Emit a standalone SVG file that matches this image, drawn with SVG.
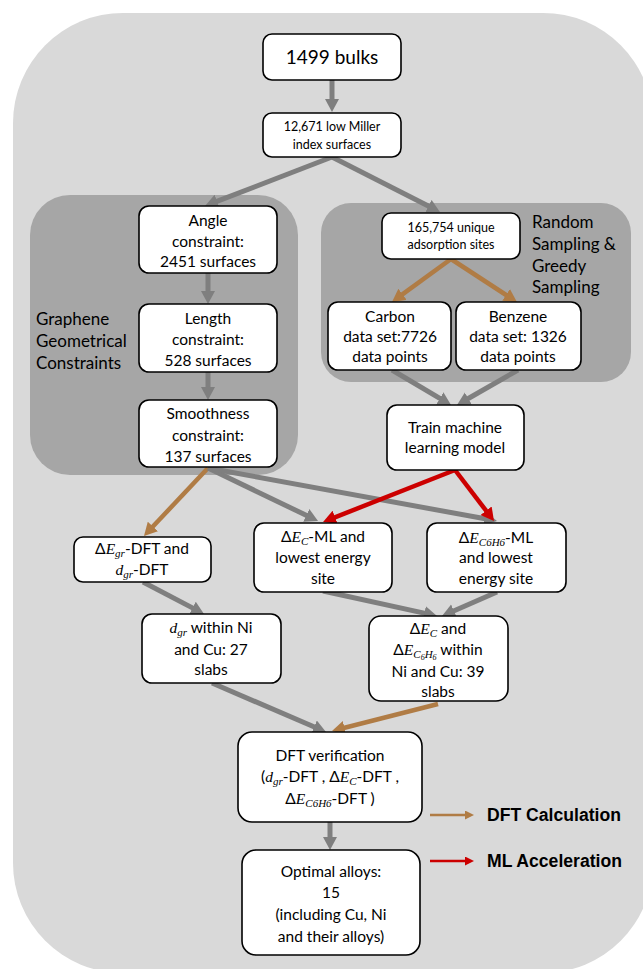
<svg xmlns="http://www.w3.org/2000/svg" width="643" height="969" viewBox="0 0 643 969">
<style>
.box{fill:#fff;stroke:#000;stroke-width:1.6}
.t{font-family:Lato,"Open Sans","Liberation Sans",sans-serif;font-size:15.5px;fill:#000;text-anchor:middle}
.s{font-size:12.5px}
.lbl{font-family:Lato,"Open Sans","Liberation Sans",sans-serif;font-size:17px;fill:#000}
.m{font-family:"Liberation Serif","DejaVu Serif",serif;font-style:italic}
.g{fill:none;stroke:#7f7f7f;stroke-width:5}
.o{fill:none;stroke:#b07c45;stroke-width:4.5}
.r{fill:none;stroke:#cc0000;stroke-width:4.5}
.leg{font-family:"Liberation Sans",Arial,sans-serif;font-weight:bold;font-size:17.6px;fill:#000}
</style>
<defs>
<marker id="ag" markerUnits="userSpaceOnUse" markerWidth="16" markerHeight="16" refX="1" refY="7" orient="auto"><path d="M0,0 L13,7 L0,14 z" fill="#7f7f7f"/></marker>
<marker id="ao" markerUnits="userSpaceOnUse" markerWidth="16" markerHeight="16" refX="1" refY="7" orient="auto"><path d="M0,0 L13,7 L0,14 z" fill="#b07c45"/></marker>
<marker id="ar" markerUnits="userSpaceOnUse" markerWidth="16" markerHeight="16" refX="1" refY="7" orient="auto"><path d="M0,0 L13,7 L0,14 z" fill="#cc0000"/></marker>
<marker id="lo" markerUnits="userSpaceOnUse" markerWidth="12" markerHeight="12" refX="1" refY="4.5" orient="auto"><path d="M0,0 L9,4.5 L0,9 z" fill="#b07c45"/></marker>
<marker id="lr" markerUnits="userSpaceOnUse" markerWidth="12" markerHeight="12" refX="1" refY="4.5" orient="auto"><path d="M0,0 L9,4.5 L0,9 z" fill="#cc0000"/></marker>
</defs>

<rect x="13" y="13" width="640" height="960" rx="110" fill="#d9d9d9"/>
<rect id="panel-graphene" x="30" y="195" width="268" height="280" rx="40" fill="#a6a6a6"/>
<rect id="panel-sampling" x="321" y="203" width="310" height="179" rx="30" fill="#a6a6a6"/>

<g id="connectors">
<path class="g" d="M332,80 L332,100" marker-end="url(#ag)"/>
<path class="g" d="M332,157 L216.2,201.7" marker-end="url(#ag)"/>
<path class="g" d="M332,157 L429.3,206.6" marker-end="url(#ag)"/>
<path class="g" d="M208,273 L208,292" marker-end="url(#ag)"/>
<path class="g" d="M208,372 L208,388" marker-end="url(#ag)"/>
<path class="o" d="M451,259 L401.7,294.9" marker-end="url(#ao)"/>
<path class="o" d="M451,259 L506.9,295.5" marker-end="url(#ao)"/>
<path class="g" d="M392,370 L440.7,398.9" marker-end="url(#ag)"/>
<path class="g" d="M518,370 L467.4,399" marker-end="url(#ag)"/>
<path class="o" d="M208,468 L152.2,527.3" marker-end="url(#ao)"/>
<path class="g" d="M208,468 L307.2,515.8" marker-end="url(#ag)"/>
<path class="g" d="M208,468 L485.2,518.8" marker-end="url(#ag)"/>
<path class="r" d="M455,470 L334.2,517.6" marker-end="url(#ar)"/>
<path class="r" d="M455,470 L486.7,511.5" marker-end="url(#ar)"/>
<path class="g" d="M143,582 L193.4,608.4" marker-end="url(#ag)"/>
<path class="g" d="M323,591 L425.3,613.4" marker-end="url(#ag)"/>
<path class="g" d="M497,592 L453,611.2" marker-end="url(#ag)"/>
<path class="g" d="M212,683 L315,727.3" marker-end="url(#ag)"/>
<path class="o" d="M438,704 L343.6,728" marker-end="url(#ao)"/>
<path class="g" d="M330,822 L330,838" marker-end="url(#ag)"/>
<path fill="none" stroke="#b07c45" stroke-width="2.5" d="M430,815 L466,815" marker-end="url(#lo)"/>
<path fill="none" stroke="#cc0000" stroke-width="2.5" d="M430,861 L466,861" marker-end="url(#lr)"/>
</g>

<g id="label-graphene"><text class="lbl" x="36" y="325">Graphene</text><text class="lbl" x="36" y="347">Geometrical</text><text class="lbl" x="36" y="369">Constraints</text></g>
<g id="label-sampling"><text class="lbl" x="532" y="228">Random</text><text class="lbl" x="532" y="250">Sampling &amp;</text><text class="lbl" x="532" y="272">Greedy</text><text class="lbl" x="532" y="293">Sampling</text></g>

<g id="n-bulks"><rect class="box" x="263" y="34" width="138" height="46" rx="9"/><text class="t" x="332" y="64" style="font-size:19px">1499 bulks</text></g>
<g id="n-miller"><rect class="box" x="263" y="113" width="138" height="44" rx="9"/><text class="t s" x="332" y="131">12,671 low Miller</text><text class="t s" x="332" y="149">index surfaces</text></g>

<g id="n-angle"><rect class="box" x="139" y="206" width="138" height="67" rx="10"/><text class="t" x="208" y="226">Angle</text><text class="t" x="208" y="247">constraint:</text><text class="t" x="208" y="267">2451 surfaces</text></g>
<g id="n-length"><rect class="box" x="139" y="304" width="138" height="68" rx="10"/><text class="t" x="208" y="324">Length</text><text class="t" x="208" y="345">constraint:</text><text class="t" x="208" y="366">528 surfaces</text></g>
<g id="n-smooth"><rect class="box" x="139" y="400" width="138" height="67" rx="10"/><text class="t" x="208" y="419">Smoothness</text><text class="t" x="208" y="441">constraint:</text><text class="t" x="208" y="462">137 surfaces</text></g>

<g id="n-sites"><rect class="box" x="382" y="213" width="138" height="46" rx="9"/><text class="t s" x="451" y="232">165,754 unique</text><text class="t s" x="451" y="249">adsorption sites</text></g>
<g id="n-carbon"><rect class="box" x="328" y="302" width="123" height="68" rx="10"/><text class="t" x="390" y="322">Carbon</text><text class="t" x="390" y="342">data set:7726</text><text class="t" x="390" y="362">data points</text></g>
<g id="n-benzene"><rect class="box" x="456" y="302" width="125" height="68" rx="10"/><text class="t" x="518" y="322">Benzene</text><text class="t" x="518" y="342">data set: 1326</text><text class="t" x="518" y="362">data points</text></g>
<g id="n-train"><rect class="box" x="387" y="405" width="137" height="65" rx="10"/><text class="t" x="455" y="433">Train machine</text><text class="t" x="455" y="453">learning model</text></g>

<g id="n-egr"><rect class="box" x="74" y="537" width="137" height="45" rx="9"/><text class="t" x="142" y="554">Δ<tspan class="m">E</tspan><tspan class="m" dy="3" font-size="11">gr</tspan><tspan dy="-3">-DFT and</tspan></text><text class="t" x="142" y="575"><tspan class="m">d</tspan><tspan class="m" dy="3" font-size="11">gr</tspan><tspan dy="-3">-DFT</tspan></text></g>
<g id="n-ecml"><rect class="box" x="254" y="523" width="138" height="69" rx="10"/><text class="t" x="323" y="542">Δ<tspan class="m">E</tspan><tspan class="m" dy="3" font-size="11">C</tspan><tspan dy="-3">-ML and</tspan></text><text class="t" x="323" y="563">lowest energy</text><text class="t" x="323" y="584">site</text></g>
<g id="n-ebzml"><rect class="box" x="427" y="523" width="139" height="69" rx="10"/><text class="t" x="496" y="543">Δ<tspan class="m">E</tspan><tspan class="m" dy="3" font-size="11">C6H6</tspan><tspan dy="-3">-ML</tspan></text><text class="t" x="496" y="563">and lowest</text><text class="t" x="496" y="584">energy site</text></g>

<g id="n-dgr"><rect class="box" x="142" y="614" width="139" height="69" rx="10"/><text class="t" x="211" y="633"><tspan class="m">d</tspan><tspan class="m" dy="3" font-size="11">gr</tspan><tspan dy="-3"> within Ni</tspan></text><text class="t" x="211" y="655">and Cu: 27</text><text class="t" x="211" y="675">slabs</text></g>
<g id="n-ec39"><rect class="box" x="369" y="616" width="139" height="85" rx="12"/><text class="t" x="438" y="634">Δ<tspan class="m">E</tspan><tspan class="m" dy="3" font-size="11">C</tspan><tspan dy="-3"> and</tspan></text><text class="t" x="438" y="655">Δ<tspan class="m">E</tspan><tspan class="m" dy="3" font-size="11">C</tspan><tspan class="m" dy="2" font-size="8">6</tspan><tspan class="m" dy="-2" font-size="11">H</tspan><tspan class="m" dy="2" font-size="8">6</tspan><tspan dy="-5"> within</tspan></text><text class="t" x="438" y="677">Ni and Cu: 39</text><text class="t" x="438" y="697">slabs</text></g>

<g id="n-verify"><rect class="box" x="238" y="732" width="184" height="90" rx="14"/><text class="t" x="330" y="761">DFT verification</text><text class="t" x="330" y="782">(<tspan class="m">d</tspan><tspan class="m" dy="3" font-size="11">gr</tspan><tspan dy="-3">-DFT , Δ</tspan><tspan class="m">E</tspan><tspan class="m" dy="3" font-size="11">C</tspan><tspan dy="-3">-DFT ,</tspan></text><text class="t" x="330" y="804">Δ<tspan class="m">E</tspan><tspan class="m" dy="3" font-size="11">C6H6</tspan><tspan dy="-3">-DFT )</tspan></text></g>
<g id="n-optimal"><rect class="box" x="242" y="850" width="178" height="105" rx="14"/><text class="t" x="331" y="877">Optimal alloys:</text><text class="t" x="331" y="898">15</text><text class="t" x="331" y="920">(including Cu, Ni</text><text class="t" x="331" y="942">and their alloys)</text></g>

<g id="legend"><text class="leg" x="487" y="821">DFT Calculation</text><text class="leg" x="487" y="867">ML Acceleration</text></g>
</svg>
